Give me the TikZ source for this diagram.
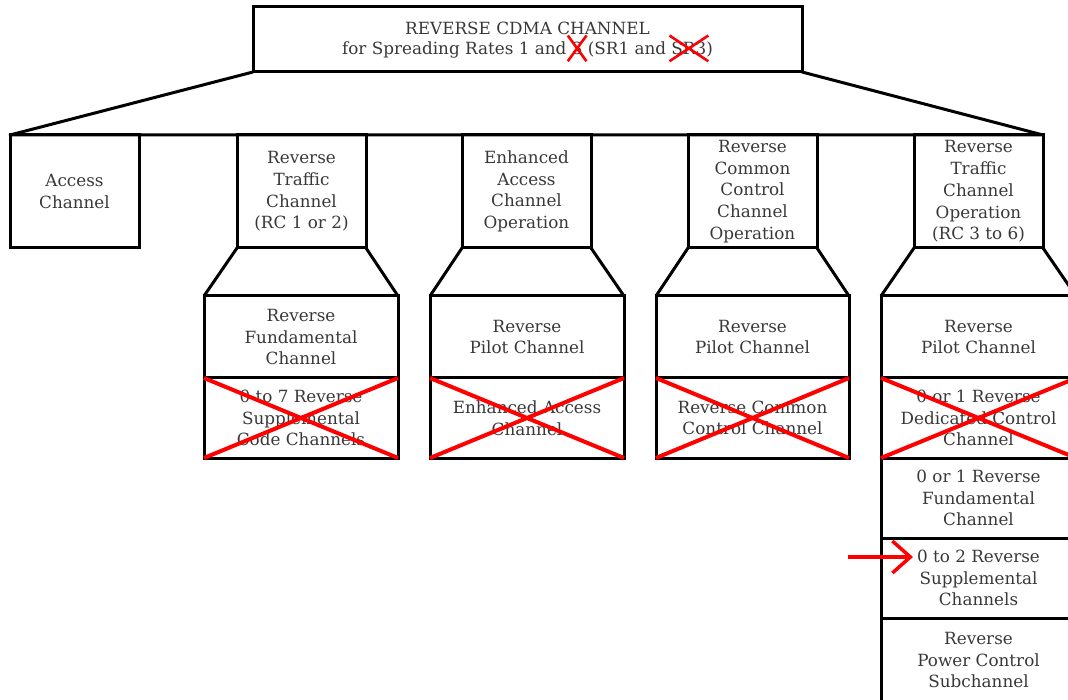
\documentclass[tikz,border=0pt]{standalone}
\usepackage{fontspec}
\setmainfont{DejaVu Serif}
\usetikzlibrary{arrows.meta,calc}
\newlength\ltwo
\newcommand\fs{\fontsize{16.8}{21.7}\selectfont}
\begin{document}
\settowidth{\ltwo}{\fs for Spreading Rates 1 and 3 (SR1 and SR3)}%
\begin{tikzpicture}[x=1pt,y=-1pt,
  box/.style={draw, line width=3pt, inner sep=0pt, outer sep=0pt, align=center,
              font=\fs, text=black!78},
  top/.style={box, minimum width=129pt, minimum height=113pt},
  sub/.style={box, minimum width=194pt},
  txt/.style={inner sep=0pt, outer sep=0pt, font=\fs, text=black!78},
  edge/.style={line width=3pt, line join=round},
  redx/.style={red, line width=4pt},
  smallx/.style={red, line width=2.6pt}]
\useasboundingbox (0,0) rectangle (1068,700);
\clip (0,0) rectangle (1068,700);

% title
\node[box, minimum width=549pt, minimum height=65pt] (title) at (527.5,39.5) {};
\node[txt] (tl1) at (527.5,28) {REVERSE CDMA CHANNEL};
\node[txt, anchor=base west] (s1) at ({527.5-0.5*\ltwo},55) {for Spreading Rates 1 and\ \mbox{}};
\node[txt, anchor=base west] (s2) at (s1.base east) {3};
\node[txt, anchor=base west] (s3) at (s2.base east) {\mbox{}\ (SR1 and\ \mbox{}};
\node[txt, anchor=base west] (s4) at (s3.base east) {SR3};
\node[txt, anchor=base west] (s5) at (s4.base east) {)};
\draw[smallx] ([shift={(-4,6)}]s2.south west) -- ([shift={(4,-7)}]s2.north east)
              ([shift={(-4,-7)}]s2.north west) -- ([shift={(4,6)}]s2.south east);
\draw[smallx] ([shift={(-2,6)}]s4.south west) -- ([shift={(2,-7)}]s4.north east)
              ([shift={(-2,-7)}]s4.north west) -- ([shift={(2,6)}]s4.south east);

% first level
\node[top] (acc)  at (74.5,191.5)  {Access\\Channel};
\node[top] (rtc)  at (301.5,191.5) {Reverse\\Traffic\\Channel\\(RC 1 or 2)};
\node[top] (eac)  at (526.5,191.5) {Enhanced\\Access\\Channel\\Operation};
\node[top] (rccc) at (752.5,191.5) {Reverse\\Common\\Control\\Channel\\Operation};
\node[top] (rtco) at (978.5,191.5) {Reverse\\Traffic\\Channel\\Operation\\(RC 3 to 6)};

% fan from title
\draw[edge] (title.south west) -- (acc.north west) -- (rtco.north east) -- (title.south east);

% column 1
\node[sub, minimum height=82pt] (rfc) at (301,337) {Reverse\\Fundamental\\Channel};
\node[sub, minimum height=80pt] (rsc) at (301,418) {0 to 7 Reverse\\Supplemental\\Code Channels};
% column 2
\node[sub, minimum height=82pt] (pil1) at (527,337) {Reverse\\Pilot Channel};
\node[sub, minimum height=80pt] (eacc) at (527,418) {Enhanced Access\\Channel};
% column 3
\node[sub, minimum width=193pt, minimum height=82pt] (pil2) at (752.5,337) {Reverse\\Pilot Channel};
\node[sub, minimum width=193pt, minimum height=80pt] (rcc) at (752.5,418) {Reverse Common\\Control Channel};
% column 4
\node[sub, minimum width=195pt, minimum height=82pt] (pil3) at (978.5,337) {Reverse\\Pilot Channel};
\node[sub, minimum width=195pt, minimum height=80pt] (rdcc) at (978.5,418) {0 or 1 Reverse\\Dedicated Control\\Channel};
\node[sub, minimum width=195pt, minimum height=80pt] (rfc2) at (978.5,498) {0 or 1 Reverse\\Fundamental\\Channel};
\node[sub, minimum width=195pt, minimum height=80pt] (rsup) at (978.5,578) {0 to 2 Reverse\\Supplemental\\Channels};
\node[sub, minimum width=195pt, minimum height=84pt] (rpcs) at (978.5,660) {Reverse\\Power Control\\Subchannel};

% trapezoid connectors
\foreach \a/\b in {rtc/rfc, eac/pil1, rccc/pil2, rtco/pil3} {
  \draw[edge] (\a.south west) -- (\b.north west);
  \draw[edge] (\a.south east) -- (\b.north east);
}

% red crosses
\foreach \n in {rsc, eacc, rcc, rdcc} {
  \draw[redx] (\n.north west) -- (\n.south east) (\n.south west) -- (\n.north east);
}

% red arrow
\coordinate (atail) at (848,557);
\coordinate (ahead) at (913,557);
\draw[red, line width=3.5pt, -{Straight Barb[length=18pt, width=32pt]}] (atail) -- (ahead);
\end{tikzpicture}
\end{document}
